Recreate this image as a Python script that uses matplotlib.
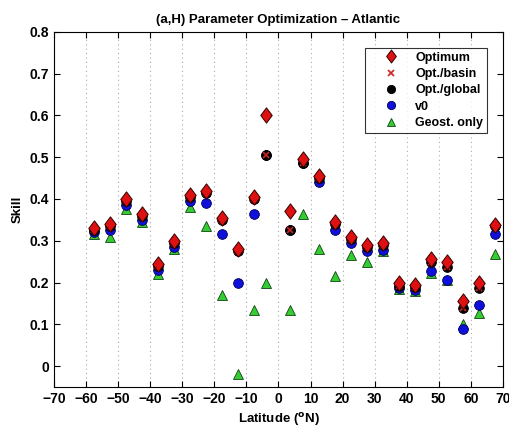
import matplotlib
matplotlib.use("Agg")
import matplotlib.pyplot as plt
from matplotlib.path import Path
import numpy as np

plt.rcParams['font.family'] = ['Liberation Sans', 'DejaVu Sans']
plt.rcParams['font.weight'] = 'bold'

lat = [-57.5, -52.5, -47.5, -42.5, -37.5, -32.5, -27.5, -22.5, -17.5, -12.5, -7.5, -3.75,
       3.75, 7.5, 12.5, 17.5, 22.5, 27.5, 32.5, 37.5, 42.5, 47.5, 52.5, 57.5, 62.5, 67.5]
optimum = [0.33, 0.34, 0.40, 0.365, 0.245, 0.30, 0.41, 0.42, 0.355, 0.28, 0.405, 0.60,
           0.37, 0.495, 0.455, 0.345, 0.31, 0.29, 0.295, 0.198, 0.195, 0.256, 0.248, 0.155, 0.198, 0.338]
opt_basin = [0.325, 0.335, 0.395, 0.36, 0.24, 0.295, 0.405, 0.415, 0.35, 0.275, 0.40, 0.505,
             0.325, 0.485, 0.45, 0.34, 0.305, 0.285, 0.29, 0.192, 0.19, 0.25, 0.238, 0.14, 0.188, 0.335]
opt_global = [0.325, 0.335, 0.395, 0.36, 0.24, 0.295, 0.405, 0.415, 0.35, 0.275, 0.40, 0.505,
              0.325, 0.485, 0.45, 0.34, 0.305, 0.285, 0.29, 0.192, 0.19, 0.25, 0.238, 0.14, 0.188, 0.335]
v0 = [0.32, 0.325, 0.385, 0.35, 0.23, 0.285, 0.395, 0.39, 0.315, 0.20, 0.365, 0.505,
      0.325, 0.485, 0.44, 0.325, 0.295, 0.275, 0.278, 0.188, 0.182, 0.228, 0.207, 0.088, 0.147, 0.316]
geost = [0.315, 0.31, 0.375, 0.345, 0.22, 0.28, 0.38, 0.335, 0.17, -0.02, 0.135, 0.20,
         0.135, 0.365, 0.28, 0.215, 0.265, 0.25, 0.275, 0.185, 0.18, 0.222, 0.205, 0.10, 0.128, 0.268]

xticks = list(range(-70, 71, 10))
yticks = [0, 0.1, 0.2, 0.3, 0.4, 0.5, 0.6, 0.7, 0.8]
yticklabels = ['0', '0.1', '0.2', '0.3', '0.4', '0.5', '0.6', '0.7', '0.8']

diamond = Path([(0, 1), (0.75, 0), (0, -1), (-0.75, 0), (0, 1)],
               [Path.MOVETO, Path.LINETO, Path.LINETO, Path.LINETO, Path.CLOSEPOLY])

fig = plt.figure(figsize=(5.1, 4.3), dpi=100)
ax = fig.add_axes([0.106, 0.1, 0.88, 0.826])

for x in xticks:
    ax.axvline(x, color='#aaaaaa', linestyle=(0, (1, 3)), linewidth=0.8, zorder=0)

ax.plot(lat, geost, linestyle='none', marker='^', markersize=7, markerfacecolor='#33cc33',
        markeredgecolor='#114411', markeredgewidth=0.6, label='Geost. only', zorder=2)
ax.plot(lat, v0, linestyle='none', marker='o', markersize=7, markerfacecolor='#1010dd',
        markeredgecolor='#000055', markeredgewidth=0.6, label='v0', zorder=3)
ax.plot(lat, opt_global, linestyle='none', marker='o', markersize=7, markerfacecolor='black',
        markeredgecolor='black', markeredgewidth=0.6, label='Opt./global', zorder=4)
ax.plot(lat, opt_basin, linestyle='none', marker='x', markersize=4.5, color='#cc2222',
        markeredgewidth=1.2, label='Opt./basin', zorder=5)
ax.plot(lat, optimum, linestyle='none', marker=diamond, markersize=11, markerfacecolor='#dd1111',
        markeredgecolor='#330000', markeredgewidth=0.7, label='Optimum', zorder=6)

ax.set_xlim(-70, 70)
ax.set_ylim(-0.05, 0.8)
ax.set_xticks(xticks)
ax.set_xticklabels([str(x).replace('-', '\u2212') for x in xticks])
ax.set_yticks(yticks)
ax.set_yticklabels(yticklabels)
ax.tick_params(direction='in', top=True, right=True, labelsize=10, length=4, width=0.8)
for lbl in ax.get_xticklabels() + ax.get_yticklabels():
    lbl.set_fontweight('bold')
for s in ax.spines.values():
    s.set_linewidth(0.8)

ax.set_xlabel('Latitude ($^{\\mathbf{o}}$N)', fontsize=9.5, fontweight='bold')
ax.set_ylabel('Skill', fontsize=9.5, fontweight='bold')
ax.set_title('(a,H) Parameter Optimization \u2013 Atlantic', fontsize=9.5, fontweight='bold', pad=6)

handles, labels = ax.get_legend_handles_labels()
order = [4, 3, 2, 1, 0]
leg = ax.legend([handles[i] for i in order], [labels[i] for i in order],
                loc='upper right', bbox_to_anchor=(0.965, 0.955), borderaxespad=0,
                fontsize=9, frameon=True, markerscale=0.85,
                fancybox=False, edgecolor='black', handlelength=3.6, borderpad=0.3,
                labelspacing=0.35, handletextpad=0.15)
leg.get_frame().set_linewidth(0.8)
for t in leg.get_texts():
    t.set_fontweight('bold')

fig.savefig('out.png', dpi=100)
